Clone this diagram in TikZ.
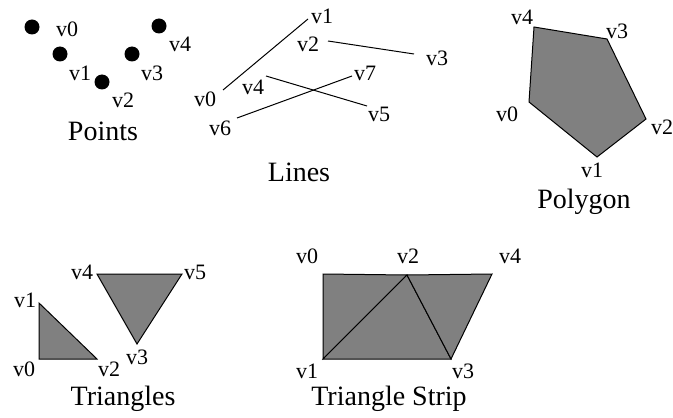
\documentclass[tikz,border=0pt]{standalone}
\usepackage{fontspec}
\setmainfont{Liberation Serif}
\usetikzlibrary{positioning}
\definecolor{facegray}{HTML}{808080}

\begin{document}
\begin{tikzpicture}[x=0.75pt, y=-0.75pt,
    lbl/.style={inner sep=0pt, font=\fontsize{16.5}{19}\selectfont},
    captext/.style={inner sep=0pt, font=\fontsize{21}{24}\selectfont},
    dot/.style={circle, fill=black, inner sep=0pt, minimum size=11.25pt},
    face/.style={fill=facegray, draw=black, line width=0.75pt, line join=miter},
    seg/.style={draw=black, line width=0.75pt}]
    \useasboundingbox (0,0) rectangle (673,417);

    % Points
    \node[dot] (pt0) at (32,27) {};
    \node[dot] (pt1) at (60,54) {};
    \node[dot] (pt2) at (102,82) {};
    \node[dot] (pt3) at (132,54) {};
    \node[dot] (pt4) at (159,26) {};
    \node[lbl] (ptl0) at (67,29) {v0};
    \node[lbl] (ptl1) at (80,73) {v1};
    \node[lbl] (ptl2) at (123,100) {v2};
    \node[lbl] (ptl3) at (152,73) {v3};
    \node[lbl] (ptl4) at (180,44) {v4};
    \node[captext] (ptcap) at (103,131) {Points};

    % Lines
    \coordinate (ln0) at (223,90);
    \coordinate (ln1) at (308,19);
    \coordinate (ln2) at (328,41);
    \coordinate (ln3) at (414,54);
    \coordinate (ln4) at (266,76);
    \coordinate (ln5) at (367,106);
    \coordinate (ln6) at (237,118);
    \coordinate (ln7) at (352,76);
    \draw[seg] (ln0) -- (ln1);
    \draw[seg] (ln2) -- (ln3);
    \draw[seg] (ln4) -- (ln5);
    \draw[seg] (ln6) -- (ln7);
    \node[lbl] (lnl0) at (205,99) {v0};
    \node[lbl] (lnl1) at (322,16) {v1};
    \node[lbl] (lnl2) at (308,44) {v2};
    \node[lbl] (lnl3) at (437,58) {v3};
    \node[lbl] (lnl4) at (253,87) {v4};
    \node[lbl] (lnl5) at (379,114) {v5};
    \node[lbl] (lnl6) at (220,128) {v6};
    \node[lbl] (lnl7) at (365,73) {v7};
    \node[captext] (lncap) at (299,172) {Lines};

    % Polygon
    \coordinate (pg0) at (529,102);
    \coordinate (pg1) at (597,157);
    \coordinate (pg2) at (646,119);
    \coordinate (pg3) at (607,39);
    \coordinate (pg4) at (534,27);
    \filldraw[face] (pg0) -- (pg1) -- (pg2) -- (pg3) -- (pg4) -- cycle;
    \node[lbl] (pgl0) at (507,114) {v0};
    \node[lbl] (pgl1) at (592,170) {v1};
    \node[lbl] (pgl2) at (662,127) {v2};
    \node[lbl] (pgl3) at (617,31) {v3};
    \node[lbl] (pgl4) at (522,17) {v4};
    \node[captext] (pgcap) at (584,202) {Polygon};

    % Triangles
    \coordinate (tr0) at (39,359);
    \coordinate (tr1) at (39,303);
    \coordinate (tr2) at (97,359);
    \coordinate (tr3) at (137,344);
    \coordinate (tr4) at (97,274);
    \coordinate (tr5) at (182,274);
    \filldraw[face] (tr0) -- (tr1) -- (tr2) -- cycle;
    \filldraw[face] (tr3) -- (tr4) -- (tr5) -- cycle;
    \node[lbl] (trl0) at (24,369) {v0};
    \node[lbl] (trl1) at (25,300) {v1};
    \node[lbl] (trl2) at (109,369) {v2};
    \node[lbl] (trl3) at (137,357) {v3};
    \node[lbl] (trl4) at (82,272) {v4};
    \node[lbl] (trl5) at (195,272) {v5};
    \node[captext] (trcap) at (123,399) {Triangles};

    % Triangle strip
    \coordinate (ts0) at (323,274);
    \coordinate (ts1) at (323,359);
    \coordinate (ts2) at (407,275);
    \coordinate (ts3) at (451,359);
    \coordinate (ts4) at (492,274);
    \filldraw[face] (ts0) -- (ts1) -- (ts2) -- cycle;
    \filldraw[face] (ts1) -- (ts2) -- (ts3) -- cycle;
    \filldraw[face] (ts2) -- (ts3) -- (ts4) -- cycle;
    \node[lbl] (tsl0) at (307,256) {v0};
    \node[lbl] (tsl1) at (307,371) {v1};
    \node[lbl] (tsl2) at (408,256) {v2};
    \node[lbl] (tsl3) at (463,371) {v3};
    \node[lbl] (tsl4) at (510,256) {v4};
    \node[captext] (tscap) at (389,399) {Triangle Strip};
\end{tikzpicture}
\end{document}
